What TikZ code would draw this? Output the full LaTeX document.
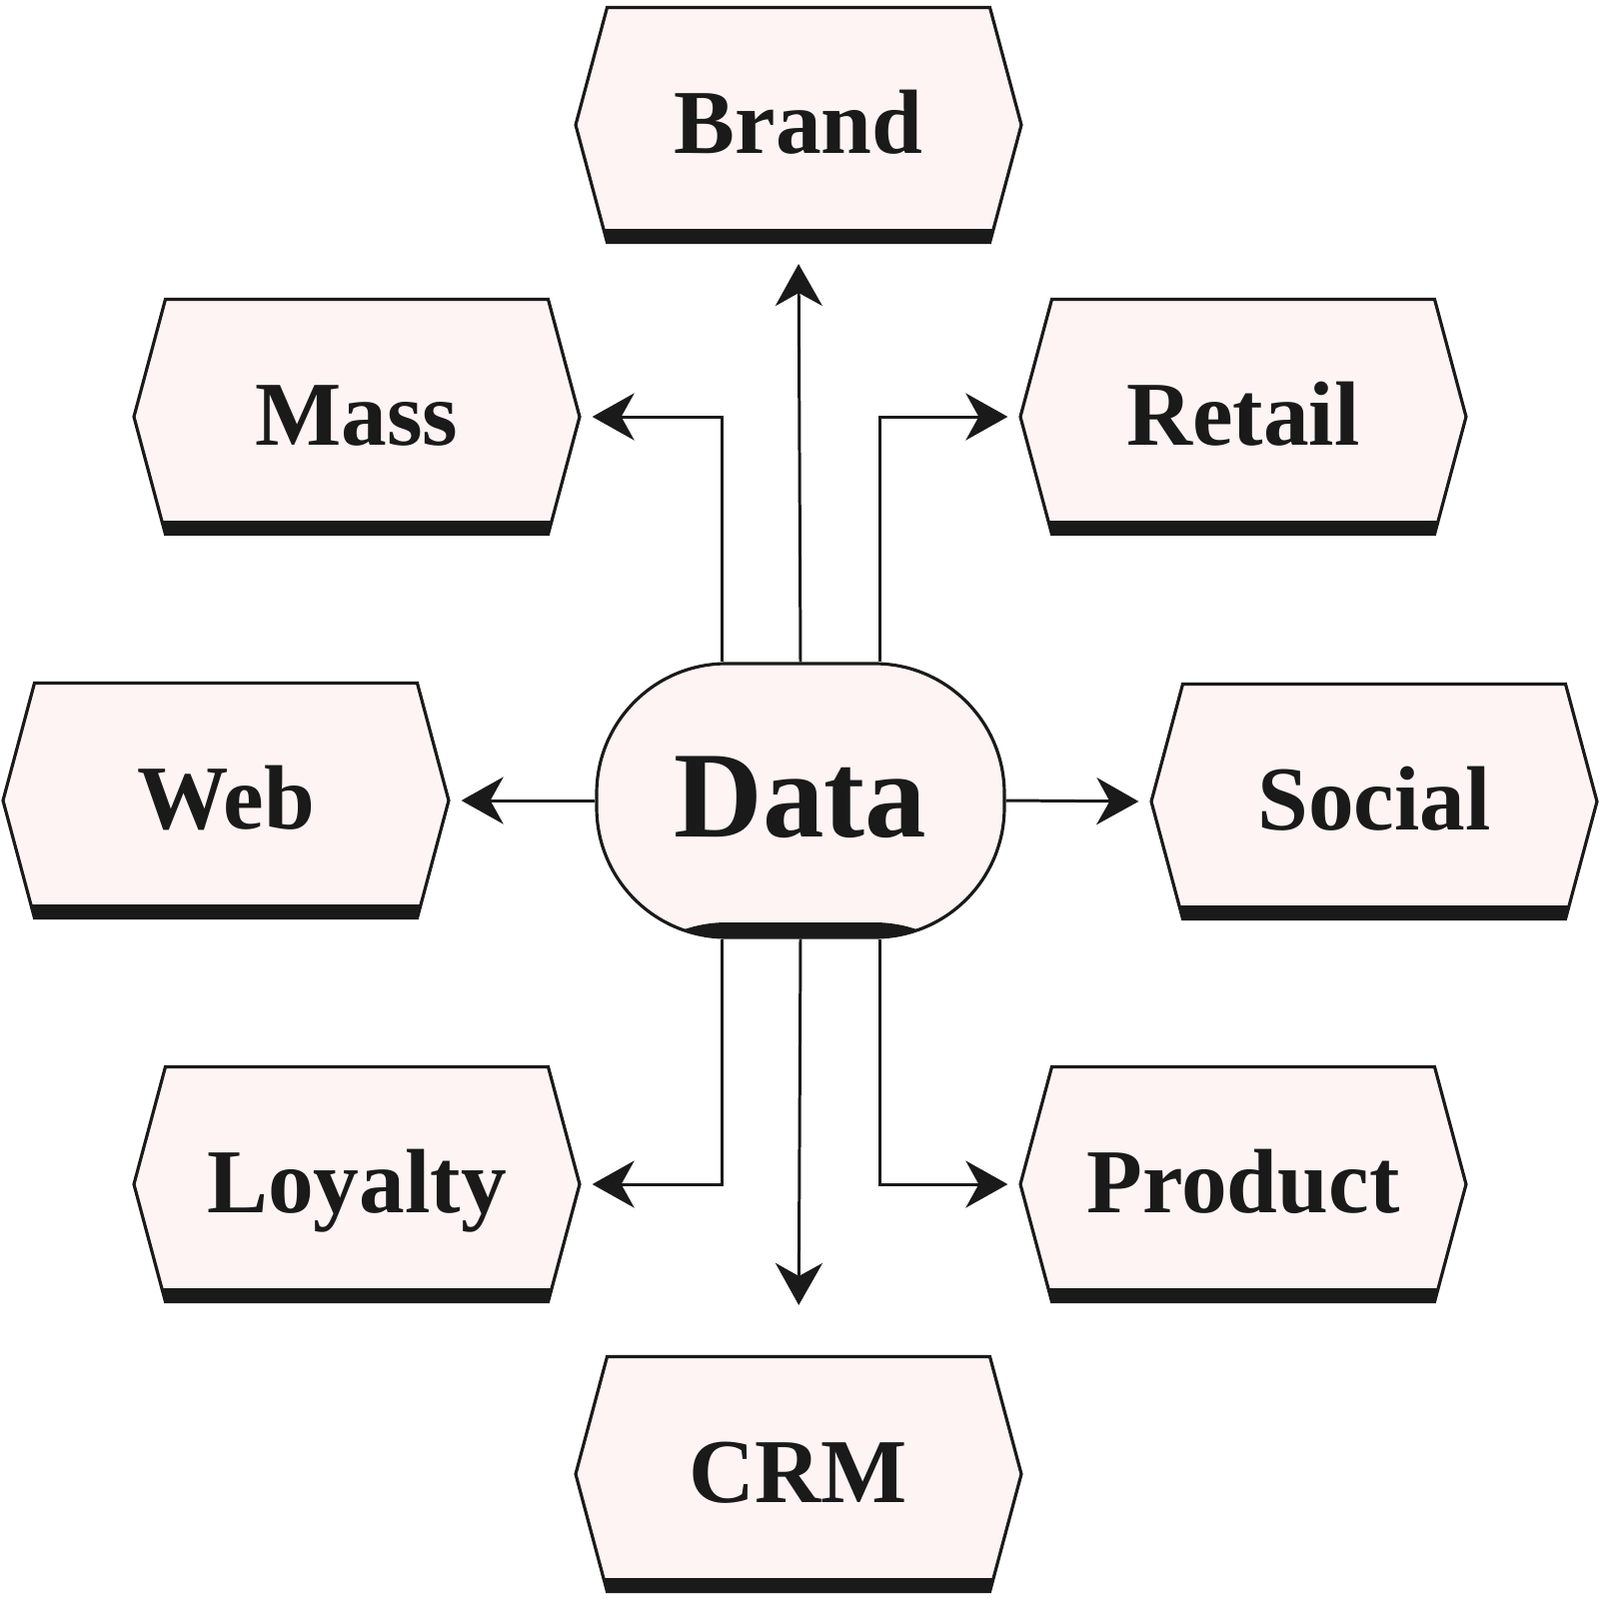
\documentclass[tikz,border=0pt]{standalone}
\usepackage{fontspec}
\setmainfont{Liberation Serif}
\usepackage{tikz}
\usetikzlibrary{shapes,shapes.symbols,arrows.meta,positioning,calc}
\definecolor{ink}{HTML}{1A1A1A}
\definecolor{blush}{HTML}{FDF4F3}

\begin{document}
\begin{tikzpicture}[
    x=0.1mm, y=-0.1mm,
    base band/.style={path picture={\fill[ink] ([yshift=#1]path picture bounding box.south west) rectangle (path picture bounding box.south east);}},
    hexbox/.style={signal, signal to=east and west, signal pointer angle=150, draw=ink, fill=blush, line width=0.9pt, minimum width=4.46cm, minimum height=2.35cm, inner sep=0pt, text=ink, text height=6.1mm, text depth=0.5mm, font=\fontsize{26}{30}\selectfont\bfseries, base band=1.4mm},
    hub/.style={rectangle, rounded corners=1.3cm, draw=ink, fill=blush, line width=0.9pt, minimum width=4.08cm, minimum height=2.74cm, inner sep=0pt, text=ink, text height=8.3mm, text depth=1.1mm, font=\fontsize{35}{40}\selectfont\bfseries, base band=1.5mm},
    arrow/.style={-{Stealth[length=4.2mm, width=4.7mm, inset=1.3mm]}, line width=0.85pt, draw=ink, shorten >=1.1mm}
]
    \useasboundingbox (0,0) rectangle (1600,1600);

    % Central hub
    \node[hub] (data) at (801,801) {Data};

    % Top row
    \node[hexbox] (brand) at (799,125) {Brand};

    % Upper left / right
    \node[hexbox] (mass) at (357,417) {Mass};
    \node[hexbox] (retail) at (1244,417) {Retail};

    % Middle row
    \node[hexbox] (web) at (226,801) {Web};
    \node[hexbox] (social) at (1375,802) {Social};

    % Lower left / right
    \node[hexbox] (loyalty) at (357,1185) {Loyalty};
    \node[hexbox] (product) at (1244,1185) {Product};

    % Bottom row
    \node[hexbox] (crm) at (799,1475) {CRM};

    % Arrows going up
    \draw[arrow, shorten >=2mm] (data.north) -- (brand.south);
    \draw[arrow] ([xshift=-7.9mm]data.north) |- (mass.east);
    \draw[arrow] ([xshift=7.9mm]data.north) |- (retail.west);

    % Arrows going sideways
    \draw[arrow] (data.west) -- (web.east);
    \draw[arrow] (data.east) -- (social.west);

    % Arrows going down
    \draw[arrow, shorten >=5mm] (data.south) -- (crm.north);
    \draw[arrow] ([xshift=-7.9mm]data.south) |- (loyalty.east);
    \draw[arrow] ([xshift=7.9mm]data.south) |- (product.west);
\end{tikzpicture}
\end{document}
